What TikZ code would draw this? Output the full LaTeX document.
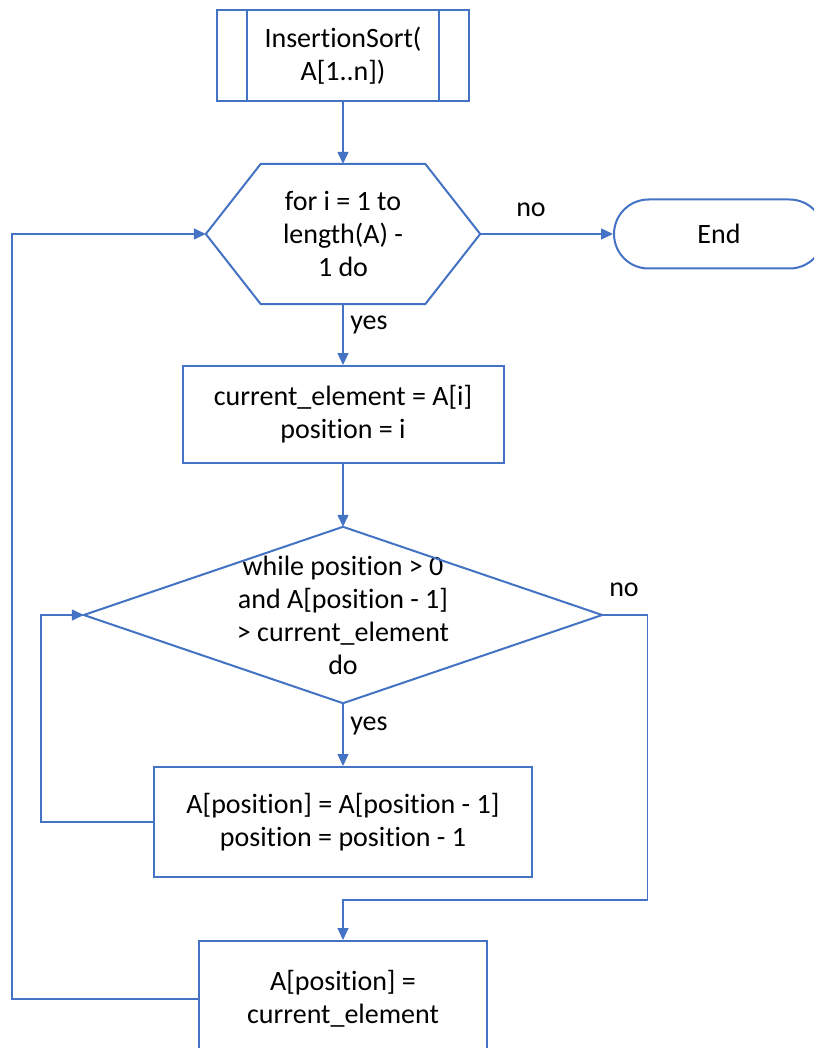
\documentclass[tikz,border=0pt]{standalone}
\usepackage{fontspec}
\setmainfont{Carlito}[RawFeature={-liga,-clig,-dlig,-calt}]
\usetikzlibrary{shapes,arrows.meta}
\definecolor{flowblue}{RGB}{68,114,196}

\begin{document}
\begin{tikzpicture}[x=1pt,y=-1pt,font=\fontsize{28}{33}\selectfont,
    box/.style={draw=flowblue, line width=2pt, fill=white, align=center, inner sep=0pt},
    shapeline/.style={draw=flowblue, line width=2pt},
    arr/.style={draw=flowblue, line width=1.3pt, -{Triangle[length=12pt,width=11pt]}}]
\clip (0,0) rectangle (814,1048);
\fill[white] (0,0) rectangle (814,1048);
\node[box, minimum width=252pt, minimum height=91pt] (sort) at (343,55.5) {InsertionSort(\\A[1..n])};
\draw[shapeline] ([xshift=31pt]sort.north west) -- ([xshift=31pt]sort.south west);
\draw[shapeline] ([xshift=-31pt]sort.north east) -- ([xshift=-31pt]sort.south east);
\node[minimum width=274pt, minimum height=140pt, align=center, inner sep=0pt] (loop) at (343,234) {for i = 1 to\\length(A) -\\1 do};
\draw[shapeline] (loop.west) -- ([xshift=55pt]loop.north west) -- ([xshift=-55pt]loop.north east) -- (loop.east) -- ([xshift=-55pt]loop.south east) -- ([xshift=55pt]loop.south west) -- cycle;
\node[box, rounded corners=34.5pt, minimum width=210pt, minimum height=69pt] (end) at (719,234) {End};
\node[box, minimum width=321pt, minimum height=97pt] (init) at (343,414.5) {current\_element = A[i]\\position = i};
\node[minimum width=518pt, minimum height=176pt, align=center, inner sep=0pt] (while) at (343,615) {while position > 0\\and A[position - 1]\\> current\_element\\do};
\draw[shapeline] (while.north) -- (while.east) -- (while.south) -- (while.west) -- cycle;
\node[box, minimum width=378pt, minimum height=110pt] (shift) at (343,822) {A[position] = A[position - 1]\\position = position - 1};
\node[box, minimum width=288pt, minimum height=116pt] (place) at (343,999) {A[position] =\\current\_element};
\node (no1) at (531,210) {no};
\node (yes1) at (369,325) {yes};
\node (no2) at (624,590) {no};
\node (yes2) at (369,726) {yes};
\draw[arr] (sort.south) -- (loop.north);
\draw[arr] (loop.east) -- (end.west);
\draw[arr] (loop.south) -- (init.north);
\draw[arr] (init.south) -- (while.north);
\draw[arr] (while.south) -- (shift.north);
\draw[arr] (shift.west) -- ++(-112,0) |- (while.west);
\draw[arr] (while.east) -- ++(45,0) -- ++(0,285) -| (place.north);
\draw[arr] (place.west) -- ++(-186,0) |- (loop.west);
\end{tikzpicture}
\end{document}
